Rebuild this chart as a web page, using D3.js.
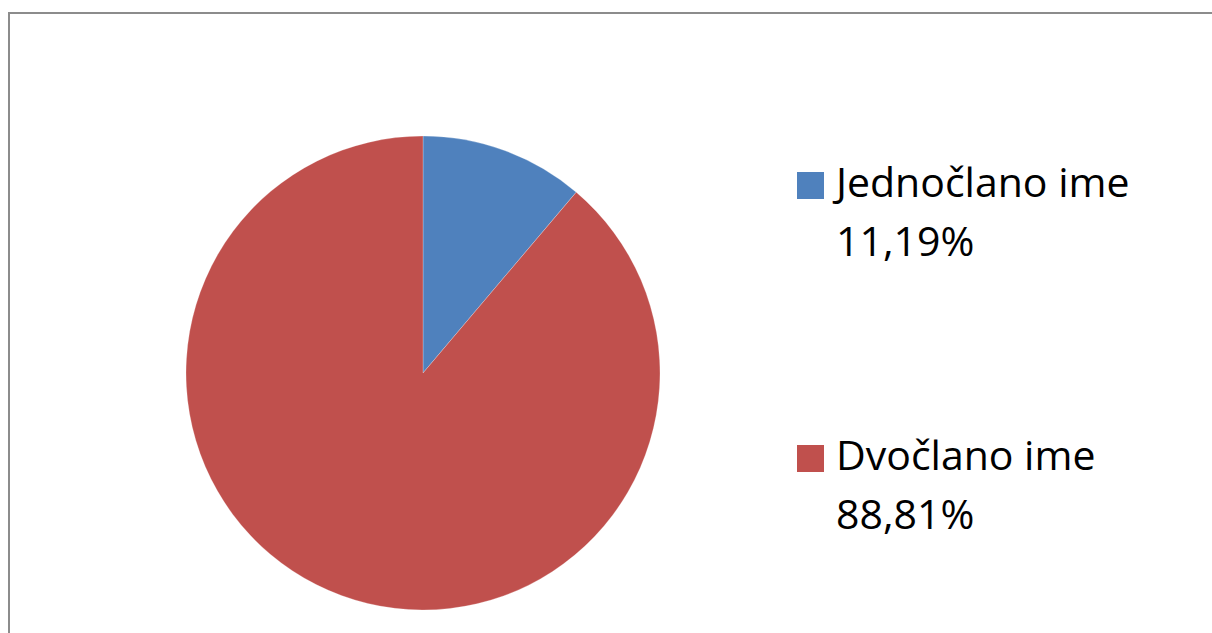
<!DOCTYPE html>
<html><head><meta charset="utf-8">
<script src="https://cdn.jsdelivr.net/npm/d3@7"></script>
<style>body{margin:0;background:#fff}svg{display:block}</style>
</head><body>
<script>
const categories = ["Jednočlano ime", "Dvočlano ime"];
const values = [11.19, 88.81];
const valueLabels = ["11,19%", "88,81%"];
const colors = ["#4F81BD", "#C0504D"];

const W = 1212, H = 633;
const svg = d3.select("body").append("svg").attr("width", W).attr("height", H);
svg.append("rect").attr("width", W).attr("height", H).attr("fill", "#fff");
// frame
svg.append("path").attr("d", `M9,633 V13 H1212`).attr("fill", "none").attr("stroke", "#8c8c8c").attr("stroke-width", 2);

const cx = 423, cy = 373, r = 237;
const pie = d3.pie().sort(null).value(d => d)(values);
const arc = d3.arc().innerRadius(0).outerRadius(r);
const g = svg.append("g").attr("transform", `translate(${cx},${cy})`);
g.selectAll("path").data(pie).join("path")
  .attr("d", arc).attr("fill", (d, i) => colors[i])
  .attr("stroke", "rgba(255,255,255,0.35)").attr("stroke-width", 0.7);

const legY = [172, 445];
const lg = svg.append("g");
categories.forEach((c, i) => {
  lg.append("rect").attr("x", 797).attr("y", legY[i]).attr("width", 27).attr("height", 27).attr("fill", colors[i]);
  lg.append("text").attr("x", 836).attr("y", legY[i] + 25).attr("font-family", "'Open Sans', Lato, sans-serif")
    .attr("font-size", 41).attr("fill", "#000").text(c);
  lg.append("text").attr("x", 836).attr("y", legY[i] + 84).attr("font-family", "'Open Sans', Lato, sans-serif")
    .attr("font-size", 41).attr("fill", "#000").text(valueLabels[i]);
});
</script>
</body></html>
